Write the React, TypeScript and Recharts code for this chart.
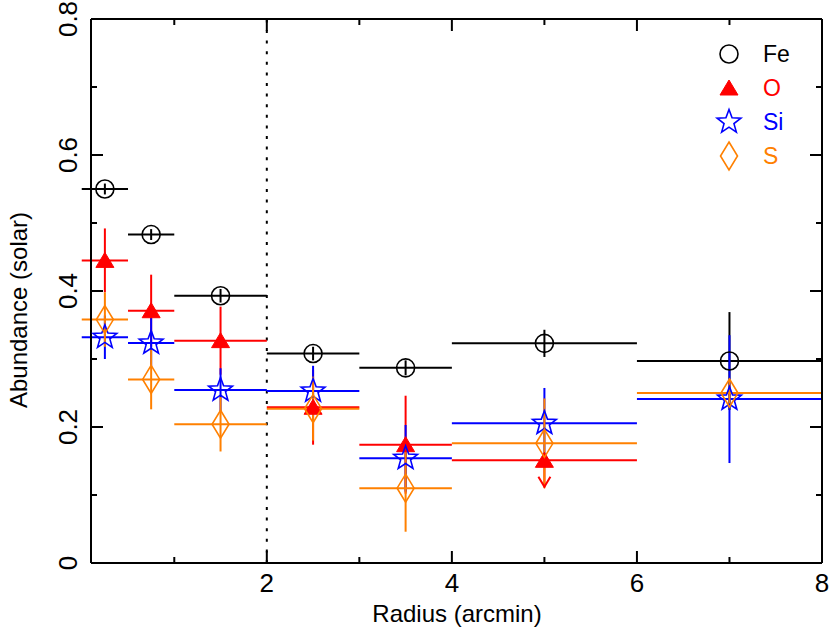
import React from 'react';
import { ComposedChart, Scatter, XAxis, YAxis, ErrorBar, ReferenceLine, Customized } from 'recharts';

// ---- data ----
const radiusCenters = [0.25, 0.75, 1.5, 2.5, 3.5, 5, 7];
const radiusHalfWidths = [0.25, 0.25, 0.5, 0.5, 0.5, 1, 1];

const feValues = [0.55, 0.483, 0.393, 0.308, 0.287, 0.323, 0.297];
const feErrors = [0.008, 0.008, 0.01, 0.01, 0.011, 0.02, 0.072];

const oValues = [0.445, 0.371, 0.327, 0.229, 0.174, 0.151];
const oErrLow = [0.047, 0.053, 0.05, 0.055, 0.072, 0.039];
const oErrHigh = [0.047, 0.053, 0.05, 0.055, 0.072, 0];
const oUpperLimit = [false, false, false, false, false, true];

const siValues = [0.332, 0.3235, 0.2544, 0.253, 0.154, 0.2054, 0.241];
const siErrors = [0.032, 0.037, 0.032, 0.037, 0.049, 0.052, 0.094];

const sValues = [0.358, 0.27, 0.204, 0.227, 0.11, 0.176, 0.25];
const sErrors = [0.04, 0.044, 0.04, 0.047, 0.064, 0.066, 0.02];

const xTicks = [1, 2, 3, 4, 5, 6, 7, 8];
const yTicks = [0, 0.1, 0.2, 0.3, 0.4, 0.5, 0.6, 0.7, 0.8];

const legendNames = ['Fe', 'O', 'Si', 'S'];
const COLORS: Record<string, string> = { Fe: '#000000', O: '#ff0000', Si: '#0000ff', S: '#ff8000' };
const FONT = '"Liberation Sans", Arial, Helvetica, sans-serif';

// ---- build tables ----
const feData = feValues.map((y, i) => ({ x: radiusCenters[i], y, xe: radiusHalfWidths[i], ye: feErrors[i] }));
const oData = oValues.map((y, i) => ({ x: radiusCenters[i], y, xe: radiusHalfWidths[i], ye: [oErrLow[i], oErrHigh[i]] }));
const oLimitData = oValues
  .map((y, i) => ({ x: radiusCenters[i], y: y - oErrLow[i], lim: oUpperLimit[i] }))
  .filter((d) => d.lim);
const siData = siValues.map((y, i) => ({ x: radiusCenters[i], y, xe: radiusHalfWidths[i], ye: siErrors[i] }));
const sData = sValues.map((y, i) => ({ x: radiusCenters[i], y, xe: radiusHalfWidths[i], ye: sErrors[i] }));

// ---- marker shapes ----
const circleShape = (cx: number, cy: number, color: string) => (
  <circle cx={cx} cy={cy} r={9} fill="none" stroke={color} strokeWidth={1.6} />
);
const triangleShape = (cx: number, cy: number, color: string) => (
  <path d={`M${cx},${cy - 8}L${cx + 9},${cy + 7}L${cx - 9},${cy + 7}Z`} fill={color} stroke={color} strokeWidth={1} />
);
const starShape = (cx: number, cy: number, color: string) => {
  const R = 12.5;
  const r = 5.2;
  const pts: string[] = [];
  for (let k = 0; k < 10; k++) {
    const rad = k % 2 === 0 ? R : r;
    const a = -Math.PI / 2 + (k * Math.PI) / 5;
    pts.push(`${(cx + rad * Math.cos(a)).toFixed(2)},${(cy + rad * Math.sin(a)).toFixed(2)}`);
  }
  return <polygon points={pts.join(' ')} fill="none" stroke={color} strokeWidth={1.6} />;
};
const diamondShape = (cx: number, cy: number, color: string) => (
  <path d={`M${cx},${cy - 14}L${cx + 8.5},${cy}L${cx},${cy + 14}L${cx - 8.5},${cy}Z`} fill="none" stroke={color} strokeWidth={1.6} />
);
const shapeFor: Record<string, (cx: number, cy: number, c: string) => React.ReactElement> = {
  Fe: circleShape,
  O: triangleShape,
  Si: starShape,
  S: diamondShape,
};

const makeShape = (name: string) => (props: any) => {
  const { cx, cy } = props;
  if (cx == null || cy == null) return <g />;
  return shapeFor[name](cx, cy, COLORS[name]);
};

const arrowShape = (props: any) => {
  const { cx, cy } = props;
  return (
    <path d={`M${cx - 6},${cy - 10}L${cx},${cy}L${cx + 6},${cy - 10}`} fill="none" stroke={COLORS.O} strokeWidth={2} />
  );
};

// ---- ticks ----
const MAJOR = 12;
const MINOR = 6;
const TICK_FS = 26;

const BottomTick = (props: any) => {
  const { x, y, payload } = props;
  const v = payload.value;
  const major = Math.round(v) % 2 === 0;
  return (
    <g>
      <line x1={x} x2={x} y1={y} y2={y - (major ? MAJOR : MINOR)} stroke="#000" strokeWidth={2} />
      {major && (
        <text x={x} y={y + 29} textAnchor="middle" fontSize={TICK_FS} fontFamily={FONT} fill="#000">
          {v}
        </text>
      )}
    </g>
  );
};
const TopTick = (props: any) => {
  const { x, y, payload } = props;
  const major = Math.round(payload.value) % 2 === 0;
  return <line x1={x} x2={x} y1={y} y2={y + (major ? MAJOR : MINOR)} stroke="#000" strokeWidth={2} />;
};
const LeftTick = (props: any) => {
  const { x, y, payload } = props;
  const v = payload.value;
  const major = Math.round(v * 10) % 2 === 0;
  const tx = x - 14;
  return (
    <g>
      <line x1={x} x2={x + (major ? MAJOR : MINOR)} y1={y} y2={y} stroke="#000" strokeWidth={2} />
      {major && (
        <text x={tx} y={y} transform={`rotate(-90 ${tx} ${y})`} textAnchor="middle" fontSize={TICK_FS} fontFamily={FONT} fill="#000">
          {v === 0 ? '0' : v.toFixed(1)}
        </text>
      )}
    </g>
  );
};
const RightTick = (props: any) => {
  const { x, y, payload } = props;
  const major = Math.round(payload.value * 10) % 2 === 0;
  return <line x1={x} x2={x - (major ? MAJOR : MINOR)} y1={y} y2={y} stroke="#000" strokeWidth={2} />;
};

// ---- overlay: titles + legend ----
const Overlay = () => (
  <g>
    <text x={457} y={622} textAnchor="middle" fontSize={24} fontFamily={FONT} fill="#000">
      Radius (arcmin)
    </text>
    <text x={27} y={310} transform="rotate(-90 27 310)" textAnchor="middle" fontSize={24} fontFamily={FONT} fill="#000">
      Abundance (solar)
    </text>
    {legendNames.map((n, i) => {
      const cy = 54 + i * 34;
      return (
        <g key={n}>
          {shapeFor[n](729, cy, COLORS[n])}
          <text x={763} y={cy + 8} fontSize={23} fontFamily={FONT} fill={COLORS[n]}>
            {n}
          </text>
        </g>
      );
    })}
  </g>
);

export default function App() {
  return (
    <div style={{ position: 'absolute', left: 0, top: 0, background: '#fff' }}>
      <ComposedChart width={830} height={633} margin={{ top: 18, right: 7, bottom: 69, left: 90 }}>
        <XAxis
          xAxisId="b"
          type="number"
          dataKey="x"
          domain={[0.1, 8]}
          allowDataOverflow
          ticks={xTicks}
          interval={0}
          height={1}
          tickSize={0}
          tickMargin={0}
          tickLine={false}
          tick={<BottomTick />}
          axisLine={{ stroke: '#000', strokeWidth: 2 }}
        />
        <XAxis
          xAxisId="t"
          orientation="top"
          type="number"
          dataKey="x"
          domain={[0.1, 8]}
          allowDataOverflow
          ticks={xTicks}
          interval={0}
          height={1}
          tickSize={0}
          tickMargin={0}
          tickLine={false}
          tick={<TopTick />}
          axisLine={{ stroke: '#000', strokeWidth: 2 }}
        />
        <YAxis
          yAxisId="l"
          type="number"
          dataKey="y"
          domain={[0, 0.8]}
          allowDataOverflow
          ticks={yTicks}
          interval={0}
          width={1}
          tickSize={0}
          tickMargin={0}
          tickLine={false}
          tick={<LeftTick />}
          axisLine={{ stroke: '#000', strokeWidth: 2 }}
        />
        <YAxis
          yAxisId="r"
          orientation="right"
          type="number"
          dataKey="y"
          domain={[0, 0.8]}
          allowDataOverflow
          ticks={yTicks}
          interval={0}
          width={1}
          tickSize={0}
          tickMargin={0}
          tickLine={false}
          tick={<RightTick />}
          axisLine={{ stroke: '#000', strokeWidth: 2 }}
        />
        <ReferenceLine xAxisId="b" yAxisId="l" x={2} stroke="#000" strokeWidth={2} strokeDasharray="3 7.6" />

        <Scatter xAxisId="b" yAxisId="l" data={feData} isAnimationActive={false} shape={makeShape('Fe')}>
          <ErrorBar dataKey="xe" direction="x" width={0} stroke={COLORS.Fe} strokeWidth={2} isAnimationActive={false} />
          <ErrorBar dataKey="ye" direction="y" width={0} stroke={COLORS.Fe} strokeWidth={2} isAnimationActive={false} />
        </Scatter>
        <Scatter xAxisId="b" yAxisId="l" data={oData} isAnimationActive={false} shape={makeShape('O')}>
          <ErrorBar dataKey="xe" direction="x" width={0} stroke={COLORS.O} strokeWidth={2} isAnimationActive={false} />
          <ErrorBar dataKey="ye" direction="y" width={0} stroke={COLORS.O} strokeWidth={2} isAnimationActive={false} />
        </Scatter>
        <Scatter xAxisId="b" yAxisId="l" data={siData} isAnimationActive={false} shape={makeShape('Si')}>
          <ErrorBar dataKey="xe" direction="x" width={0} stroke={COLORS.Si} strokeWidth={2} isAnimationActive={false} />
          <ErrorBar dataKey="ye" direction="y" width={0} stroke={COLORS.Si} strokeWidth={2} isAnimationActive={false} />
        </Scatter>
        <Scatter xAxisId="b" yAxisId="l" data={sData} isAnimationActive={false} shape={makeShape('S')}>
          <ErrorBar dataKey="xe" direction="x" width={0} stroke={COLORS.S} strokeWidth={2} isAnimationActive={false} />
          <ErrorBar dataKey="ye" direction="y" width={0} stroke={COLORS.S} strokeWidth={2} isAnimationActive={false} />
        </Scatter>
        <Scatter xAxisId="b" yAxisId="l" data={oLimitData} isAnimationActive={false} shape={arrowShape} />
        <Customized component={Overlay} />
      </ComposedChart>
    </div>
  );
}
